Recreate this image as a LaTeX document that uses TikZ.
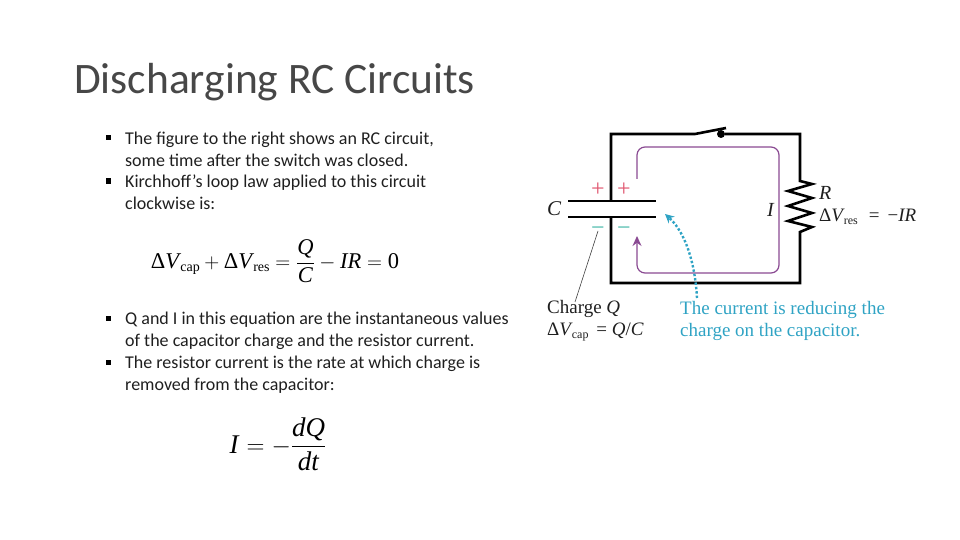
\documentclass[tikz,border=0pt]{standalone}
\usepackage{amsmath}
\usepackage{fontspec}
\setmainfont{Carlito}
\newfontfamily\figfont{Liberation Serif}
\usetikzlibrary{arrows.meta, positioning}
\definecolor{loopcol}{HTML}{8A4A92}
\definecolor{notecol}{HTML}{2FA3C4}
\definecolor{pluscol}{HTML}{E0566F}
\definecolor{minuscol}{HTML}{45B8A8}
\newcommand{\dV}[1]{\mbox{\figfont\char"0394\textit{V}\kern-1pt\raisebox{-0.35ex}{\fontsize{14}{14}\selectfont #1}}}
\newcommand{\ital}[1]{\mbox{\figfont\textit{#1}}}

\begin{document}
\begin{tikzpicture}[
        x=1pt, y=-1pt,
        title/.style={inner sep=0pt, anchor=base west, font=\fontsize{43.5}{44}\selectfont, text=black!72},
        body/.style={inner sep=0pt, anchor=north west, align=left, font=\fontsize{18}{21.6}\selectfont, text=black!88},
        bullet/.style={fill=black, inner sep=0pt, minimum size=5pt},
        eqn/.style={inner sep=0pt, font=\figfont\fontsize{22.5}{26}\selectfont, text=black},
        fig/.style={inner sep=0pt, anchor=base west, font=\figfont\fontsize{19}{21}\selectfont, text=black!88},
        note/.style={inner sep=0pt, anchor=base west, font=\figfont\fontsize{19}{21}\selectfont, text=notecol},
        wire/.style={line width=2.6pt, line join=miter},
        plate/.style={line width=1.9pt},
        loopline/.style={loopcol, line width=1.2pt, rounded corners=8pt},
        sign/.style={inner sep=0pt, font=\figfont\fontsize{24}{24}\selectfont}
    ]
    \useasboundingbox (0,0) rectangle (960,540);

    % Title and text
    \node [title] (head) at (74,94) {Discharging RC Circuits};
    \node [bullet] (b1) at (108,138) {};
    \node [bullet] (b2) at (108,181) {};
    \node [bullet] (b3) at (108,318) {};
    \node [bullet] (b4) at (108,362) {};
    \node [body] (t1) at (125,132) {The figure to the right shows an RC circuit,\\some time after the switch was closed.};
    \node [body] (t2) at (125,175) {Kirchhoff’s loop law applied to this circuit\\clockwise is:};
    \node [body] (t3) at (125,312) {Q and I in this equation are the instantaneous values\\of the capacitor charge and the resistor current.};
    \node [body] (t4) at (125,356) {The resistor current is the rate at which charge is\\removed from the capacitor:};

    % Equations
    \node [eqn] (eq1) at (275,261) {$\dV{cap}+\dV{res}=\dfrac{\ital{Q}}{\ital{C}}-\ital{IR}=\mbox{\figfont 0}$};
    \node [eqn, font=\figfont\fontsize{27}{30}\selectfont] (eq2) at (278,444) {$\ital{I}=-\dfrac{\ital{dQ}}{\ital{dt}}$};

    % Circuit corners
    \coordinate (tl) at (611,134);
    \coordinate (tr) at (800,134);
    \coordinate (br) at (800,283);
    \coordinate (bl) at (611,283);
    \coordinate (swa) at (695,134);
    \coordinate (swb) at (726,128);
    \coordinate (ra) at (800,181);
    \coordinate (rb) at (800,232);
    \coordinate (pa) at (611,201);
    \coordinate (pb) at (611,217);
    \node [circle, fill=black, inner sep=0pt, minimum size=8pt] (swdot) at (721,134) {};

    % Wires
    \draw[wire] (pa) -- (tl) -- (swa) -- (swb);
    \draw[wire] (swdot) -- (tr) -- (ra) -- (812,184) -- (788,191) -- (812,198) -- (788,206) -- (812,213) -- (788,221) -- (812,227) -- (rb) -- (br) -- (bl) -- (pb);
    \draw[plate] (568,201) coordinate (c1) -- (656,201) coordinate (c2);
    \draw[plate] (568,217) coordinate (c3) -- (656,217) coordinate (c4);

    % Current loop
    \coordinate (la) at (637,179);
    \coordinate (lb) at (637,236);
    \draw[loopline, -{Stealth[length=10pt,width=9pt]}] (la) -- (637,147) -- (779,147) -- (779,273) -- (637,273) -- (lb);

    % Charges
    \node [sign, text=pluscol] (p1) at (598,190) {+};
    \node [sign, text=pluscol] (p2) at (624,190) {+};
    \node [sign, text=minuscol] (m1) at (598,231) {\char"2212};
    \node [sign, text=minuscol] (m2) at (624,231) {\char"2212};

    % Labels
    \node [fig, font=\figfont\itshape\fontsize{21}{21}\selectfont] (capC) at (547,215) {C};
    \node [fig, font=\figfont\itshape\fontsize{20}{21}\selectfont] (curI) at (767,216) {I};
    \node [fig, font=\figfont\itshape\fontsize{20}{21}\selectfont] (resR) at (819,200) {R};
    \node [fig] (resV) at (819,221) {\char"0394\textit{V}\kern-1pt\raisebox{-0.4ex}{\fontsize{12}{12}\selectfont res}\,\, =\, \char"2212\textit{IR}};
    \node [fig] (chg) at (547,313) {Charge \textit{Q}};
    \node [fig] (chgV) at (547,335) {\char"0394\textit{V}\kern-1pt\raisebox{-0.4ex}{\fontsize{12}{12}\selectfont cap}\, = \textit{Q}/\textit{C}};
    \node [note] (n1) at (680,314) {The current is reducing the};
    \node [note] (n2) at (680,336) {charge on the capacitor.};

    % Pointers
    \coordinate (chgtop) at (575,302);
    \coordinate (chgm) at (598,231);
    \draw[black!75, line width=0.6pt] (chgtop) -- (chgm);
    \coordinate (ntop) at (697,298);
    \coordinate (capgap) at (665,214);
    \draw[notecol, line width=2.4pt, dotted, -{Stealth[length=9pt,width=9pt]}] (ntop) .. controls (695,262) and (685,232) .. (capgap);

\end{tikzpicture}
\end{document}
